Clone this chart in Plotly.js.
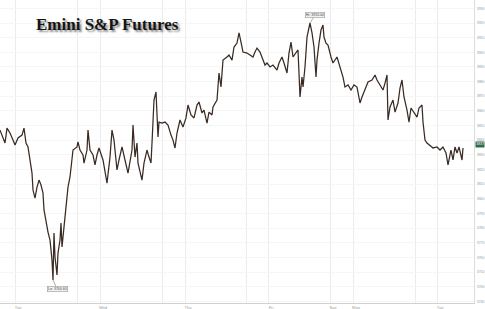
<!DOCTYPE html>
<html>
<head>
<meta charset="utf-8">
<script src="https://cdn.plot.ly/plotly-3.0.1.min.js"></script>
<style>html,body{margin:0;padding:0;background:#fff;}#chart{width:485px;height:309px;}</style>
</head>
<body>
<div id="chart"></div>
<script>
// Bar index (session time, in bars) and price of Emini S&P futures
const bar = [0,5,7,10,13,15,18,22,24,26,28,30,32,33,35,37,39,41,43,44,46,48,50,52,53,54,55,57,58,60,61,62,64,66,68,70,72,73,77,78,80,83,84,87,88,90,93,95,97,99,
103,107,110,112,114,117,119,122,125,128,132,133,135,137,138,142,144,147,149,151,152,153,154,156,157,158,159,162,165,168,171,173,175,177,180,183,186,188,191,194,197,199,202,204,207,209,212,213,217,
219,221,223,227,229,232,234,237,239,241,243,247,250,253,255,257,260,263,265,267,270,273,277,279,282,284,287,289,291,293,296,298,300,302,303,305,307,309,310,312,314,316,317,319,321,323,324,326,328,
331,333,337,339,343,345,348,351,354,357,360,362,365,368,372,375,377,380,383,385,387,388,390,393,395,398,400,402,404,407,409,411,414,417,419,422,423,425,427,430,433,437,440,443,446,448,451,453,455,457,459,462,463];
const price = [3846.9,3838.1,3848.3,3844.9,3840.1,3836.7,3841.5,3843.5,3848.3,3838.1,3835.4,3827.9,3817.6,3806.0,3800.5,3808.0,3812.8,3809.4,3803.9,3792.4,3783.5,3777.3,3771.9,3758.2,3744.6,3776.7,3760.3,3748.0,3763.0,3771.9,3783.5,3767.1,3780.7,3792.4,3808.0,3814.9,3828.5,3833.3,3835.4,3838.8,3833.3,3829.9,3824.4,3833.3,3846.9,3833.3,3829.9,3823.1,3829.9,3834.7,
3826.5,3810.7,3828.5,3846.9,3840.1,3819.7,3826.5,3835.4,3826.5,3817.6,3833.3,3850.4,3828.5,3838.1,3824.4,3812.8,3824.4,3833.3,3828.5,3824.4,3838.1,3855.8,3867.4,3872.9,3860.6,3842.2,3852.4,3851.7,3852.4,3850.4,3843.5,3840.1,3834.7,3844.9,3853.8,3849.0,3855.2,3864.0,3857.2,3855.2,3864.0,3866.1,3858.6,3860.6,3851.7,3859.2,3857.2,3862.7,3867.4,
3885.9,3876.3,3894.7,3896.8,3898.2,3894.7,3903.6,3906.3,3913.2,3907.0,3900.2,3899.5,3898.2,3896.8,3900.2,3902.9,3900.2,3894.7,3891.3,3892.7,3890.0,3891.3,3887.9,3892.7,3896.8,3892.7,3885.9,3899.5,3907.0,3896.8,3899.5,3901.6,3869.5,3883.1,3876.3,3890.0,3910.4,3917.3,3920.0,3913.2,3903.6,3883.1,3894.7,3906.3,3915.2,3918.6,3910.4,3906.3,3905.0,
3896.8,3892.7,3896.8,3892.7,3883.1,3876.3,3877.7,3874.3,3877.7,3876.3,3865.4,3869.5,3874.3,3879.7,3881.1,3884.5,3881.1,3877.7,3874.3,3879.0,3884.5,3853.8,3862.7,3867.4,3859.2,3865.4,3875.6,3881.1,3869.5,3860.6,3852.4,3862.0,3859.2,3855.8,3862.0,3864.0,3852.4,3840.1,3838.1,3836.7,3834.7,3835.4,3833.3,3835.4,3831.3,3823.1,3833.3,3826.5,3835.4,3831.3,3835.4,3826.5,3834.7];

const gridBars = [15,77,100,162,185,246,268,330,353,415,437];
const gridLabels = ["Tue","","Wed","","Thu","","Fri","Sun","Mon","","Tue"];
const hiValue = 3920.0, hiBar = 310;
const loValue = 3744.6, loBar = 53;
const lastValue = 3836.75;

const trace = {
  x: bar, y: price, type: 'scatter', mode: 'lines',
  line: {color: '#3a2b22', width: 1.25},
  hoverinfo: 'skip'
};

const layout = {
  width: 485, height: 309,
  margin: {l: 0, r: 11, t: 0, b: 6},
  paper_bgcolor: '#ffffff', plot_bgcolor: '#ffffff',
  showlegend: false,
  xaxis: {
    range: [0, 474], tickmode: 'array', tickvals: gridBars, ticktext: gridLabels,
    showgrid: true, gridcolor: '#ececec', gridwidth: 1, zeroline: false,
    showline: true, linecolor: '#d0d0d0', linewidth: 1, ticks: '',
    tickfont: {family: 'Arial, Liberation Sans', size: 4, color: '#9a9a9a'},
    ticklabelshift: 3, ticklabelstandoff: 0
  },
  yaxis: {
    range: [3728.9, 3935.7], side: 'right', dtick: 10, tick0: 3730,
    showgrid: true, gridcolor: '#f6f6f6', zeroline: false,
    showline: true, linecolor: '#dcdcdc', linewidth: 1, ticks: '',
    tickfont: {family: 'Arial, Liberation Sans', size: 3.5, color: '#9a9a9a'},
    tickformat: '.0f', ticklabelstandoff: 1
  },
  annotations: [
    {xref: 'paper', yref: 'paper', x: 0.227, y: 0.92, xanchor: 'center', yanchor: 'middle',
     text: '<b>Emini S&amp;P Futures</b>', showarrow: false,
     font: {family: 'Liberation Serif, Times New Roman, serif', size: 17, color: '#151515', shadow: '2px 2px 2px #8a8a8a'}},
    {x: hiBar, y: hiValue, xref: 'x', yref: 'y', text: 'Hi: ' + hiValue.toFixed(2),
     showarrow: true, arrowhead: 0, arrowwidth: 0.6, arrowcolor: '#777', ax: 5, ay: -8,
     font: {family: 'Arial', size: 3.5, color: '#444'}, bgcolor: '#f2f2f2', bordercolor: '#999', borderwidth: 0.6, borderpad: 0.5},
    {x: loBar, y: loValue, xref: 'x', yref: 'y', text: 'Lo: ' + loValue.toFixed(2),
     showarrow: true, arrowhead: 0, arrowwidth: 0.6, arrowcolor: '#777', ax: 4, ay: 9,
     font: {family: 'Arial', size: 3.5, color: '#444'}, bgcolor: '#f2f2f2', bordercolor: '#999', borderwidth: 0.6, borderpad: 0.5},
    {xref: 'paper', yref: 'y', x: 1, y: lastValue, xanchor: 'left', yanchor: 'middle', xshift: 1,
     text: lastValue.toFixed(0), showarrow: false,
     font: {family: 'Arial', size: 3.5, color: '#ffffff'}, bgcolor: '#2f6b46', borderpad: 0.3}
  ]
};

Plotly.newPlot('chart', [trace], layout, {displayModeBar: false, staticPlot: true});
</script>
</body>
</html>
